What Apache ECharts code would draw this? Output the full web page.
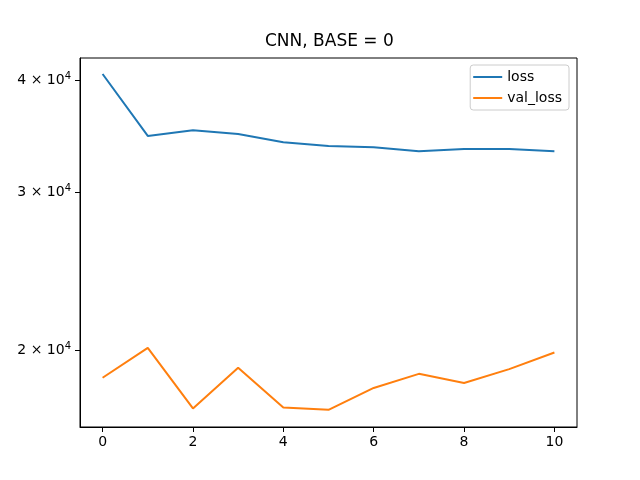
<!DOCTYPE html>
<html>
<head>
<meta charset="utf-8">
<script src="https://cdn.jsdelivr.net/npm/echarts@6/dist/echarts.min.js"></script>
<style>
  html, body { margin: 0; padding: 0; background: #fff; }
  #chart { width: 640px; height: 480px; }
</style>
</head>
<body>
<div id="chart"></div>
<script>
  // epochs 0..10
  var epochs = [0, 1, 2, 3, 4, 5, 6, 7, 8, 9, 10];
  var loss = [40620, 34650, 35160, 34830, 34090, 33770, 33660, 33320, 33510, 33510, 33320];
  var valLoss = [18630, 20120, 17220, 19120, 17260, 17160, 18150, 18820, 18380, 19050, 19880];
  var xTicks = [0, 2, 4, 6, 8, 10];
  var yTicks = [20000, 30000, 40000];

  var FONT = "DejaVu Sans";

  function pairs(xs, ys) {
    return xs.map(function (x, i) { return [x, ys[i]]; });
  }

  var chart = echarts.init(document.getElementById("chart"));
  chart.setOption({
    animation: false,
    title: {
      text: "CNN, BASE = 0",
      left: 265,
      top: 33,
      padding: 0,
      textStyle: { fontFamily: FONT, fontSize: 17, fontWeight: "normal", color: "#000" }
    },
    legend: {
      orient: "vertical",
      right: 71,
      top: 65,
      padding: [5, 7, 5, 3],
      itemGap: 7,
      itemWidth: 29,
      itemHeight: 2,
      itemTextGap: 11,
      icon: "rect",
      borderColor: "#cccccc",
      borderWidth: 1,
      borderRadius: 3,
      textStyle: { fontFamily: FONT, fontSize: 14, color: "#000" },
      data: ["loss", "val_loss"]
    },
    grid: { left: 80, right: 63, top: 58, bottom: 53, show: true, borderColor: "#000", borderWidth: 1 },
    xAxis: {
      type: "value",
      min: -0.5,
      max: 10.5,
      axisLine: { onZero: false, lineStyle: { color: "#000", width: 1 } },
      axisTick: { show: true, length: 5, inside: false, customValues: xTicks, lineStyle: { color: "#000" } },
      axisLabel: { customValues: xTicks, margin: 8, fontFamily: FONT, fontSize: 14, color: "#000" },
      splitLine: { show: false }
    },
    yAxis: {
      type: "log",
      logBase: 10,
      min: 16420,
      max: 42320,
      axisLine: { show: true, onZero: false, lineStyle: { color: "#000", width: 1 } },
      axisTick: { show: true, length: 5, customValues: yTicks, lineStyle: { color: "#000" } },
      axisLabel: {
        customValues: yTicks,
        margin: 9,
        formatter: function (v) {
          return "{a|" + Math.round(v / 10000) + " × 10}{b|4}";
        },
        rich: {
          a: { fontFamily: FONT, fontSize: 14, color: "#000" },
          b: { fontFamily: FONT, fontSize: 10, color: "#000", padding: [0, 0, 8, 0] }
        }
      },
      splitLine: { show: false },
      minorTick: { show: false }
    },
    series: [
      {
        name: "loss",
        type: "line",
        data: pairs(epochs, loss),
        showSymbol: false,
        symbol: "none",
        lineStyle: { color: "#1f77b4", width: 2 },
        itemStyle: { color: "#1f77b4" }
      },
      {
        name: "val_loss",
        type: "line",
        data: pairs(epochs, valLoss),
        showSymbol: false,
        symbol: "none",
        lineStyle: { color: "#ff7f0e", width: 2 },
        itemStyle: { color: "#ff7f0e" }
      }
    ]
  });
</script>
</body>
</html>
